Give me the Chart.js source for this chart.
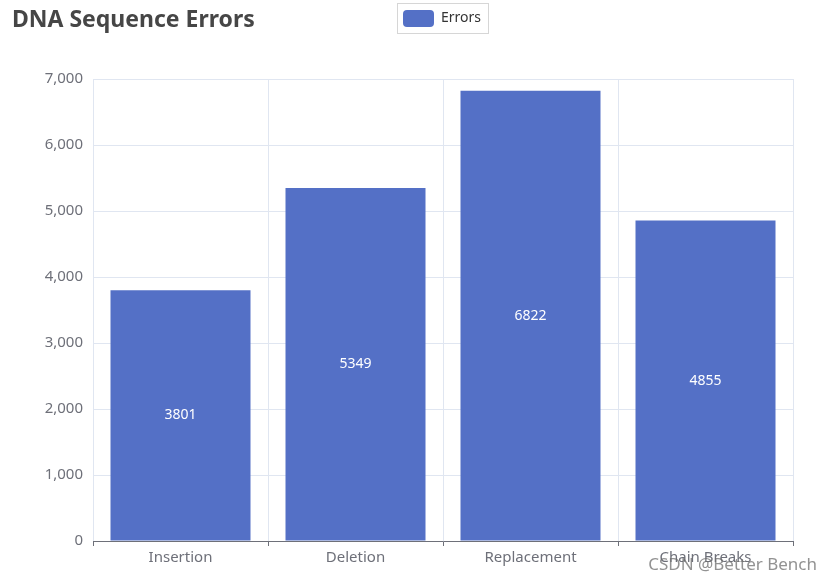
<!DOCTYPE html>
<html>
<head>
<meta charset="utf-8">
<script src="https://cdn.jsdelivr.net/npm/chart.js@4"></script>
<style>
  html, body { margin: 0; padding: 0; background: #fff; }
  #wrap { width: 832px; height: 580px; }
</style>
</head>
<body>
<div id="wrap"><canvas id="c" width="832" height="580"></canvas></div>
<script>
const categories = ['Insertion', 'Deletion', 'Replacement', 'Chain Breaks'];
const errorValues = [3801, 5349, 6822, 4855];
const yTicks = [0, 1000, 2000, 3000, 4000, 5000, 6000, 7000];

const FONT = '"Noto Sans", "Open Sans", sans-serif';
const BLUE = '#5470c6';

// title, legend box, bar labels, watermark
const extras = {
    id: 'extras',
    afterDatasetsDraw(chart) {
        const ctx = chart.ctx;
        const ds = chart.data.datasets[0];
        ctx.save();
        ctx.fillStyle = '#fff';
        ctx.font = '14px ' + FONT;
        ctx.textAlign = 'center';
        ctx.textBaseline = 'middle';
        chart.getDatasetMeta(0).data.forEach((bar, i) => {
            ctx.fillText(String(ds.data[i]), bar.x, (bar.y + bar.base) / 2);
        });
        ctx.restore();
    },
    afterDraw(chart) {
        const ctx = chart.ctx;
        const ds = chart.data.datasets[0];
        ctx.save();

        ctx.fillStyle = '#464646';
        ctx.font = 'bold 23px ' + FONT;
        ctx.textAlign = 'left';
        ctx.textBaseline = 'alphabetic';
        ctx.fillText('DNA Sequence Errors', 12, 27);

        // legend
        ctx.strokeStyle = '#d6d6d6';
        ctx.lineWidth = 1;
        ctx.strokeRect(397.5, 3.5, 91, 30);
        ctx.fillStyle = ds.backgroundColor;
        ctx.beginPath();
        ctx.roundRect(403, 10, 31, 17, 4);
        ctx.fill();
        ctx.fillStyle = '#333';
        ctx.font = '14px ' + FONT;
        ctx.textBaseline = 'middle';
        ctx.fillText(ds.label, 441, 18);

        // watermark
        ctx.fillStyle = 'rgba(110,110,110,0.75)';
        ctx.font = '17px ' + FONT;
        ctx.textAlign = 'right';
        ctx.fillText('CSDN @Better Bench', 817, 565);
        ctx.restore();
    }
};

new Chart(document.getElementById('c'), {
    type: 'bar',
    data: {
        labels: categories,
        datasets: [{
            label: 'Errors',
            data: errorValues,
            backgroundColor: BLUE,
            borderWidth: 0,
            categoryPercentage: 1,
            barPercentage: 0.8
        }]
    },
    options: {
        responsive: false,
        animation: false,
        layout: { padding: { top: 79, right: 39, left: 0, bottom: 0 } },
        plugins: {
            legend: { display: false },
            title: { display: false },
            tooltip: { enabled: false }
        },
        scales: {
            x: {
                afterFit: s => { s.height = 39; },
                grid: {
                    offset: true,
                    color: '#e0e6f1',
                    tickColor: '#6e7079',
                    tickLength: 5,
                    drawTicks: true
                },
                border: { display: true, color: '#6e7079', width: 1 },
                ticks: { color: '#6e7079', font: { family: FONT, size: 15 }, padding: 3 }
            },
            y: {
                min: 0,
                max: 7000,
                afterFit: s => { s.width = 93; },
                afterBuildTicks: s => { s.ticks = yTicks.map(v => ({ value: v })); },
                grid: { color: '#e0e6f1', drawTicks: false },
                border: { display: false },
                ticks: {
                    color: '#6e7079',
                    font: { family: FONT, size: 15 },
                    padding: 10,
                    callback: v => v.toLocaleString('en-US')
                }
            }
        }
    },
    plugins: [extras]
});
</script>
</body>
</html>
